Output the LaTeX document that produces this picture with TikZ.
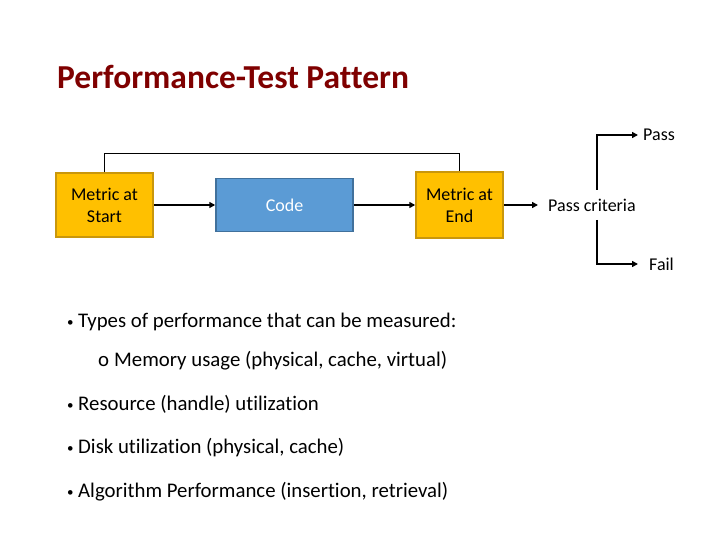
\documentclass[tikz,border=0pt]{standalone}
\usepackage{fontspec}
\setmainfont{Carlito}[Ligatures={NoCommon}]
\usetikzlibrary{arrows.meta}
\definecolor{titlered}{HTML}{7F0000}
\definecolor{gold}{HTML}{FFC000}
\definecolor{goldedge}{HTML}{C9970C}
\definecolor{bluefill}{HTML}{5B9BD5}
\definecolor{blueedge}{HTML}{41719C}
\tikzset{
  goldbox/.style={draw=goldedge, line width=1.5pt, fill=gold, align=center, inner sep=0pt, font=\fontsize{18}{22}\selectfont},
  bluebox/.style={draw=blueedge, line width=1.5pt, fill=bluefill, text=white, inner sep=0pt, font=\fontsize{18}{22}\selectfont},
  flow/.style={line width=1.8pt, -{Triangle[length=6pt,width=6pt]}},
  thin/.style={line width=1pt},
  lbl/.style={font=\fontsize{18}{22}\selectfont, inner sep=0pt},
  bul/.style={font=\fontsize{20.8}{24}\selectfont, anchor=base west, inner sep=0pt}
}
\newcommand{\bulmark}{\makebox[11pt][l]{\fontsize{13}{14}\selectfont\raisebox{1pt}{•}}}
\begin{document}
\begin{tikzpicture}[x=1pt,y=-1pt]
\useasboundingbox (0,0) rectangle (720,540);
\node[anchor=base west, inner sep=0pt, text=titlered, font=\fontsize{33.5}{36}\selectfont\bfseries] (title) at (57,89) {Performance-Test Pattern};

\node[goldbox, minimum width=97pt, minimum height=64pt] (start) at (104.5,205) {Metric at\\Start};
\node[bluebox, minimum width=137pt, minimum height=53pt] (code) at (284.5,205) {Code};
\node[goldbox, minimum width=87pt, minimum height=66pt] (end) at (459.5,205) {Metric at\\End};
\node[lbl, anchor=west] (crit) at (548,205) {Pass criteria};
\node[lbl, anchor=west] (pass) at (643,135) {Pass};
\node[lbl, anchor=west] (fail) at (649,264) {Fail};

\draw[flow] (start.east) -- (code.west);
\draw[flow] (code.east) -- (end.west);
\draw[flow] (end.east) -- ([xshift=-10pt]crit.west);
\draw[thin] (start.north) -- (start.north |- 0,154) -- (end.north |- 0,154) -- (end.north);

\coordinate (pt) at (597,190);
\coordinate (pc) at (597,135);
\coordinate (fb) at (597,220);
\coordinate (fc) at (597,264);
\draw[flow] (pt) -- (pc) -- ([xshift=-5pt]pass.west);
\draw[flow] (fb) -- (fc) -- ([xshift=-11pt]fail.west);

\node[bul] (b1) at (67,327) {\bulmark Types of performance that can be measured:};
\node[bul] (b2) at (98,366) {o\hspace{5pt}Memory usage (physical, cache, virtual)};
\node[bul] (b3) at (67,410) {\bulmark Resource (handle) utilization};
\node[bul] (b4) at (67,453) {\bulmark Disk utilization (physical, cache)};
\node[bul] (b5) at (67,497) {\bulmark Algorithm Performance (insertion, retrieval)};
\end{tikzpicture}
\end{document}
